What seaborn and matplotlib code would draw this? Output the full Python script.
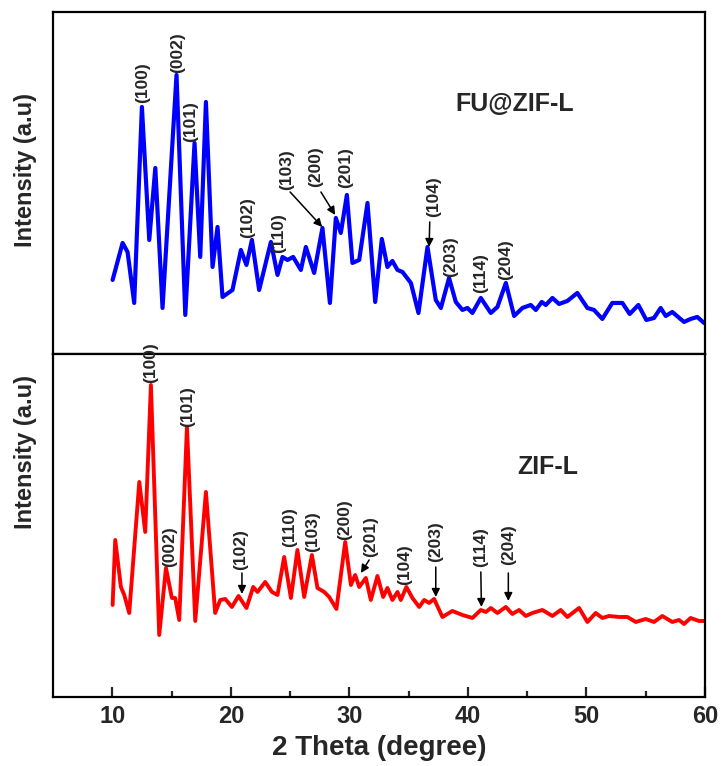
import matplotlib
matplotlib.use("Agg")
import matplotlib.pyplot as plt
import seaborn as sns

# ---- FU@ZIF-L pattern (2θ in degrees, intensity in a.u.) ----
fu_2theta = [10.03, 10.87, 11.29, 11.85, 12.50, 13.12, 13.63, 14.24, 15.42, 16.16,
             16.94, 17.42, 17.90, 18.46, 18.88, 19.30, 20.14, 20.85, 21.32, 21.78,
             22.39, 23.38, 23.94, 24.36, 24.78, 25.26, 25.91, 26.33, 27.03, 27.73,
             28.36, 28.86, 29.28, 29.79, 30.26, 30.83, 31.53, 32.18, 32.74, 33.21,
             33.63, 34.06, 34.48, 35.19, 35.83, 36.59, 37.29, 37.72, 38.41, 38.98,
             39.54, 39.96, 40.38, 41.09, 41.93, 42.49, 43.20, 43.90, 44.60, 45.30,
             45.73, 46.23, 46.57, 47.13, 47.69, 48.39, 49.23, 50.08, 50.64, 51.34,
             52.18, 53.03, 53.65, 54.38, 55.05, 55.70, 56.26, 56.69, 57.24, 58.23,
             58.79, 59.35, 59.92]
fu_intensity = [74, 111, 102, 51, 247, 114, 186, 46, 279, 39,
                211, 97, 252, 87, 127, 57, 64, 104, 89, 114,
                64, 112, 79, 97, 94, 97, 84, 107, 81, 126,
                51, 136, 121, 159, 91, 94, 151, 52, 115, 87,
                93, 84, 82, 71, 41, 107, 54, 46, 76, 52,
                44, 46, 41, 56, 41, 47, 71, 38, 46, 49,
                44, 52, 49, 56, 50, 53, 61, 46, 44, 35,
                51, 51, 40, 49, 34, 36, 46, 38, 42, 32,
                35, 37, 31]

# ---- ZIF-L pattern ----
zif_2theta = [10.03, 10.25, 10.73, 11.01, 11.43, 12.28, 12.78, 13.26, 13.96, 14.53,
              15.03, 15.31, 15.65, 16.30, 17.00, 17.90, 18.68, 19.11, 19.53, 20.09,
              20.65, 21.32, 21.89, 22.25, 22.90, 23.47, 23.94, 24.50, 25.07, 25.62,
              26.19, 26.84, 27.31, 27.88, 28.30, 28.91, 29.65, 30.13, 30.49, 30.83,
              31.39, 31.81, 32.37, 32.85, 33.21, 33.63, 34.06, 34.34, 34.81, 35.32,
              35.89, 36.31, 36.73, 37.15, 37.85, 38.69, 39.54, 40.38, 41.09, 41.51,
              41.93, 42.49, 43.20, 43.75, 44.32, 44.88, 45.44, 46.28, 47.13, 47.83,
              48.39, 49.38, 50.08, 50.78, 51.34, 51.91, 52.75, 53.45, 54.16, 55.00,
              55.70, 56.40, 57.24, 57.81, 58.23, 58.79, 59.49, 59.92]
zif_intensity = [92, 157, 110, 102, 84, 215, 165, 312, 62, 129,
                 99, 99, 77, 270, 76, 205, 84, 97, 98, 90,
                 101, 89, 110, 105, 115, 105, 102, 140, 99, 147,
                 100, 142, 109, 105, 100, 88, 155, 112, 122, 110,
                 119, 97, 121, 100, 109, 97, 105, 97, 110, 99,
                 90, 97, 94, 98, 80, 86, 82, 79, 87, 85,
                 89, 84, 90, 83, 87, 81, 84, 87, 81, 87,
                 80, 89, 75, 84, 79, 81, 80, 80, 75, 78,
                 75, 81, 75, 77, 73, 79, 76, 76]

# ---- Miller-index labels: (text, 2θ of label, label base intensity) ----
fu_labels = ["(100)", "(002)", "(101)", "(102)", "(110)", "(103)",
             "(200)", "(201)", "(104)", "(203)", "(114)", "(204)"]
fu_label_x = [12.55, 15.48, 16.64, 21.38, 24.00, 24.67,
              27.18, 29.70, 37.15, 38.56, 41.09, 43.20]
fu_label_y = [251, 281, 212, 116, 101, 164,
              167, 166, 137, 77, 61, 74]
# arrows: (tail 2θ, tail I, head 2θ, head I)
fu_arrows = [(25.00, 162, 27.71, 127),
             (27.60, 162, 28.80, 139),
             (36.78, 132, 36.73, 107)]

zif_labels = ["(100)", "(002)", "(101)", "(102)", "(110)", "(103)",
              "(200)", "(201)", "(104)", "(203)", "(114)", "(204)"]
zif_label_x = [13.26, 14.81, 16.35, 20.85, 24.92, 26.89,
               29.56, 31.81, 34.62, 37.29, 41.09, 43.41]
zif_label_y = [314, 130, 270, 127, 150, 145,
               157, 140, 112, 135, 130, 132]
zif_arrows = [(20.94, 124, 20.94, 103),
              (31.67, 137, 30.97, 124),
              (37.29, 130, 37.29, 100),
              (41.09, 125, 41.14, 90),
              (43.41, 124, 43.41, 96)]

x_ticks = [10, 20, 30, 40, 50, 60]

sns.set_style("white")
plt.rcParams["font.family"] = ["Liberation Sans", "DejaVu Sans"]
plt.rcParams["font.weight"] = "bold"

fig = plt.figure(figsize=(7.25, 7.66), dpi=100)
ax_top = fig.add_axes([0.0731, 0.5379, 0.8993, 0.4465])
ax_bot = fig.add_axes([0.0731, 0.0901, 0.8993, 0.4478], sharex=ax_top)

sns.lineplot(x=fu_2theta, y=fu_intensity, ax=ax_top, color="#0000FF",
             linewidth=3.0, sort=False, estimator=None)
sns.lineplot(x=zif_2theta, y=zif_intensity, ax=ax_bot, color="#FF0000",
             linewidth=2.8, sort=False, estimator=None)

ax_top.set_ylim(0, 342)
ax_bot.set_ylim(0, 343)
ax_bot.set_xlim(5, 60)

for ax in (ax_top, ax_bot):
    ax.set_yticks([])
    ax.set_ylabel("")
    for sp in ax.spines.values():
        sp.set_visible(True)
        sp.set_color("black")
        sp.set_linewidth(1.6)

ax_top.tick_params(axis="x", which="both", bottom=False, labelbottom=False)
ax_bot.set_xticks(x_ticks)
ax_bot.set_xticks([15, 25, 35, 45, 55], minor=True)
ax_bot.tick_params(axis="x", which="major", direction="in", length=7, width=1.6,
                   labelsize=17, pad=6, bottom=True)
ax_bot.tick_params(axis="x", which="minor", direction="in", length=4, width=1.6,
                   bottom=True)
for lbl in ax_bot.get_xticklabels():
    lbl.set_fontweight("bold")
ax_bot.set_xlabel("2 Theta (degree)", fontsize=20, fontweight="bold", labelpad=5)


def put_labels(ax, names, xs, ys, arrows):
    for name, x, y in zip(names, xs, ys):
        ax.text(x, y, name, rotation=90, ha="center", va="bottom",
                fontsize=12.5, fontweight="bold", clip_on=False)
    for x0, y0, x1, y1 in arrows:
        ax.annotate("", xy=(x1, y1), xytext=(x0, y0),
                    arrowprops=dict(arrowstyle="-|>", color="black", lw=1.1,
                                    mutation_scale=12, shrinkA=0, shrinkB=0))


put_labels(ax_top, fu_labels, fu_label_x, fu_label_y, fu_arrows)
put_labels(ax_bot, zif_labels, zif_label_x, zif_label_y, zif_arrows)

fig.text(0.710, 0.864, "FU@ZIF-L", ha="center", va="center",
         fontsize=18, fontweight="bold")
fig.text(0.756, 0.390, "ZIF-L", ha="center", va="center",
         fontsize=18, fontweight="bold")
fig.text(0.0345, 0.778, "Intensity (a.u)", rotation=90, ha="center",
         va="center", fontsize=17, fontweight="bold")
fig.text(0.0345, 0.410, "Intensity (a.u)", rotation=90, ha="center",
         va="center", fontsize=17, fontweight="bold")

fig.savefig("out.png", dpi=100)
